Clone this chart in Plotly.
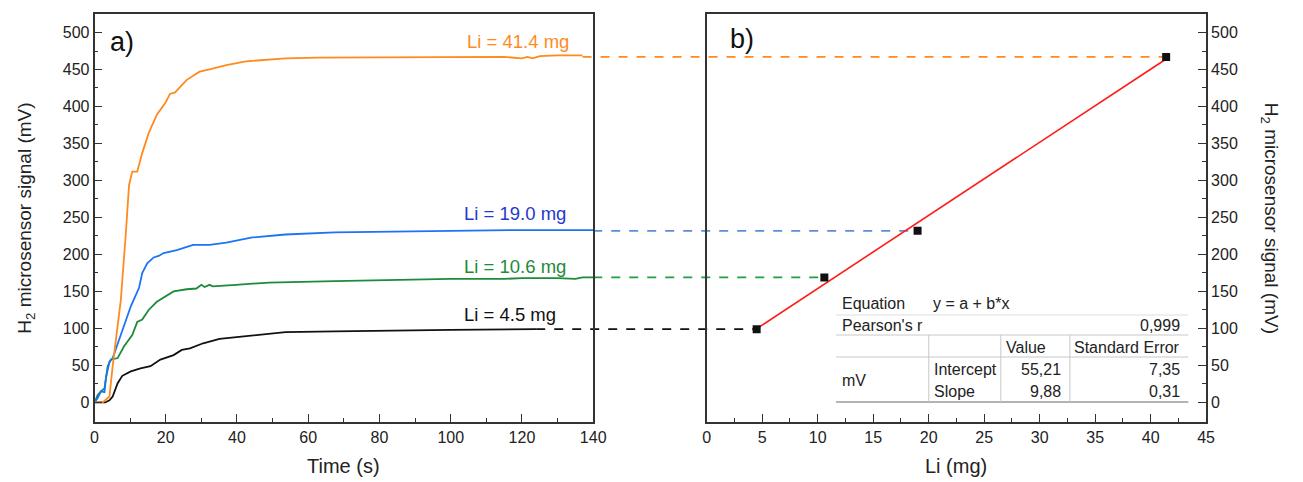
import plotly.graph_objects as go

# ---------------- data ----------------
t_414 = [0, 2.3, 3.7, 4.2, 5.1, 6.3, 7.4, 8.8, 9.7, 10.6, 12.0, 13.4, 15.2, 17.5, 19.9, 21.2, 22.6,
         25.9, 29.5, 32.3, 37, 42.5, 49, 53.6, 62.8, 75, 90, 105, 115, 120, 121.5, 123, 125, 130, 137]
v_414 = [0, 0, 6, 8, 49, 95, 139, 229, 294, 312, 312, 337, 364, 389, 405, 417, 419,
         436, 447, 450, 456, 461, 463, 465, 466, 466, 466, 467, 467, 465, 467, 465, 468, 469, 469]

t_190 = [0, 0.9, 1.8, 2.8, 3.2, 4.2, 5.1, 6.5, 8.3, 10.2, 12.5, 13.4, 14.8, 16.6, 18, 19.4, 23.1,
         27.7, 32.3, 37, 44.3, 53.6, 67.4, 80, 100, 120, 140]
v_190 = [0, 6, 15, 14, 33, 55, 60, 80, 105, 130, 155, 175, 188, 196, 198, 202, 206,
         213, 213, 216, 223, 227, 230, 231, 232, 233, 233]

t_106 = [0, 0.9, 1.8, 2.8, 3.7, 4.6, 6.5, 8.3, 10.6, 12, 13.4, 15.2, 17.5, 20.3, 22.2, 25.9, 28.6,
         30, 30.9, 32.3, 33.2, 39.7, 49, 67.4, 85, 100, 115, 120, 130, 135, 137, 140]
v_106 = [0, 10, 15, 19, 49, 58, 60, 76, 91, 109, 112, 125, 136, 145, 150, 153, 154,
         159, 156, 159, 157, 159, 162, 164, 166, 167, 167, 168, 168, 167, 169, 169]

t_45 = [0, 3.0, 4.2, 5.1, 6.5, 7.8, 10.2, 12.9, 15.7, 18.5, 22.2, 24.5, 26.8, 30.5, 35.1, 39.7,
        44.3, 53.6, 67.4, 80, 100, 124]
v_45 = [0, 0, 3, 8, 26, 36, 42, 46, 49, 58, 64, 71, 73, 80, 86, 88,
        91, 95, 96, 97, 98, 99]

li_mass = [4.5, 10.6, 19.0, 41.4]
li_signal = [99, 169, 232, 467]
labels = ["Li = 4.5 mg", "Li = 10.6 mg", "Li = 19.0 mg", "Li = 41.4 mg"]

fit_intercept = 55.21
fit_slope = 9.88
fit_table = {
    "pearson": "0,999",
    "intercept": ("55,21", "7,35"),
    "slope": ("9,88", "0,31"),
}

# ---------------- styling ----------------
W, H = 1303, 482
FONT = "Liberation Sans, Arial, sans-serif"
TXT = "#222222"
curve_colors = ["#111111", "#1E8A3A", "#1C74F5", "#FF8A1E"]
label_colors = ["#111111", "#1E8A3A", "#2438D0", "#FF8A1E"]
dash_colors = ["#111111", "#1E9E48", "#5B8DD9", "#FF8A1E"]

XR1 = [0, 140]
XR2 = [0, 45]
YR = [-26, 525]
XD1 = [91.7 / W, 597 / W]
XD2 = [712 / W, 1218 / W]
YD = [(H - 421.7) / H, (H - 14) / H]


def px(x):
    return x / W


def py(y):
    return 1 - y / H


def paper_x(val, rng, dom):
    return dom[0] + (val - rng[0]) / (rng[1] - rng[0]) * (dom[1] - dom[0])


fig = go.Figure()

series = [(t_45, v_45), (t_106, v_106), (t_190, v_190), (t_414, v_414)]
for (tt, vv), c in zip(series, curve_colors):
    fig.add_trace(go.Scatter(x=tt, y=vv, mode="lines", line=dict(color=c, width=1.8),
                             xaxis="x", yaxis="y", showlegend=False, hoverinfo="skip"))

# fit line
fx = [min(li_mass), max(li_mass)]
fy = [fit_intercept + fit_slope * v for v in fx]
fig.add_trace(go.Scatter(x=fx, y=fy, mode="lines", line=dict(color="#FF1A1A", width=1.6),
                         xaxis="x2", yaxis="y2", showlegend=False, hoverinfo="skip"))
fig.add_trace(go.Scatter(x=li_mass, y=li_signal, mode="markers",
                         marker=dict(symbol="square", size=8, color="#111111"),
                         xaxis="x2", yaxis="y2", showlegend=False, hoverinfo="skip"))

shapes = []
# dashed connectors from end of each curve to the matching point
for (tt, vv), m, s, c in zip(series, li_mass, li_signal, dash_colors):
    x0 = paper_x(tt[-1], XR1, XD1)
    x1 = paper_x(m, XR2, XD2)
    shapes.append(dict(type="line", xref="paper", yref="y", x0=x0, x1=x1, y0=s, y1=s,
                       line=dict(color=c, width=1.8, dash="dash"), layer="below"))

# table lines (pixel layout)
grid = "#C8C8C8"
T_L, T_R = 843, 1200
for yy, col in [(315, "#DDDDDD"), (335, grid), (357, grid)]:
    shapes.append(dict(type="line", xref="paper", yref="paper", x0=px(T_L), x1=px(T_R),
                       y0=py(yy), y1=py(yy), line=dict(color=col, width=1)))
shapes.append(dict(type="line", xref="paper", yref="paper", x0=px(T_L), x1=px(T_R),
                   y0=py(402), y1=py(402), line=dict(color="#9A9A9A", width=1.3)))
for xx in [937, 1010, 1080]:
    shapes.append(dict(type="line", xref="paper", yref="paper", x0=px(xx), x1=px(xx),
                       y0=py(335), y1=py(402), line=dict(color=grid, width=1)))

ann = []


def txt(x, y, s, size=16, color=TXT, xanchor="center", yanchor="middle", angle=0):
    ann.append(dict(x=px(x), y=py(y), xref="paper", yref="paper", text=s, showarrow=False,
                    font=dict(family=FONT, size=size, color=color), xanchor=xanchor,
                    yanchor=yanchor, textangle=angle))


# curve labels
label_pos = [(513, 314), (518, 266), (518, 213), (521, 41)]
for (lx, ly), s, c in zip(label_pos, labels, label_colors):
    txt(lx, ly, s, size=18.5, color=c)

txt(120, 42, "a)", size=27, color="#111111")
txt(748, 39, "b)", size=27, color="#111111")

# axis titles
txt(344, 466, "Time (s)", size=20)
txt(965, 466, "Li (mg)", size=20)
txt(22, 218, "H<sub>2</sub> microsensor signal (mV)", size=19, angle=-90)
txt(1283, 218, "H<sub>2</sub> microsensor signal (mV)", size=19, angle=90)

# table text
TS = 16
txt(847, 303, "Equation", TS, xanchor="left")
txt(939, 303, "y = a + b*x", TS, xanchor="left")
txt(847, 325, "Pearson's r", TS, xanchor="left")
txt(1194, 325, fit_table["pearson"], TS, xanchor="right")
txt(1013, 347, "Value", TS, xanchor="left")
txt(1194, 347, "Standard Error", TS, xanchor="right")
txt(847, 380, "mV", TS, xanchor="left")
txt(940, 369, "Intercept", TS, xanchor="left")
txt(940, 391, "Slope", TS, xanchor="left")
txt(1073, 369, fit_table["intercept"][0], TS, xanchor="right")
txt(1194, 369, fit_table["intercept"][1], TS, xanchor="right")
txt(1073, 391, fit_table["slope"][0], TS, xanchor="right")
txt(1194, 391, fit_table["slope"][1], TS, xanchor="right")

axis_common = dict(showline=True, linecolor="#333333", linewidth=1.6, mirror=True,
                   ticks="inside", ticklen=8, tickwidth=1.4, tickcolor="#333333",
                   showgrid=False, zeroline=False,
                   tickfont=dict(family=FONT, size=16, color=TXT))

fig.update_layout(
    width=W, height=H, margin=dict(l=0, r=0, t=0, b=0),
    paper_bgcolor="white", plot_bgcolor="white",
    shapes=shapes, annotations=ann, hovermode=False,
    xaxis=dict(domain=XD1, range=XR1, anchor="y", dtick=20, tick0=0,
               minor=dict(ticks="inside", ticklen=4, dtick=10, tickcolor="#333333"), **axis_common),
    yaxis=dict(domain=YD, range=YR, anchor="x", dtick=50, tick0=0,
               minor=dict(ticks="inside", ticklen=4, dtick=25, tickcolor="#333333"), **axis_common),
    xaxis2=dict(domain=XD2, range=XR2, anchor="y2", dtick=5, tick0=0,
                minor=dict(ticks="inside", ticklen=4, dtick=2.5, tickcolor="#333333"), **axis_common),
    yaxis2=dict(domain=YD, range=YR, anchor="x2", side="right", dtick=50, tick0=0,
                minor=dict(ticks="inside", ticklen=4, dtick=25, tickcolor="#333333"), **axis_common),
)

fig.write_html("out.html", config={"displayModeBar": False},
               post_script="document.body.style.margin='0';document.body.style.overflow='hidden';")
